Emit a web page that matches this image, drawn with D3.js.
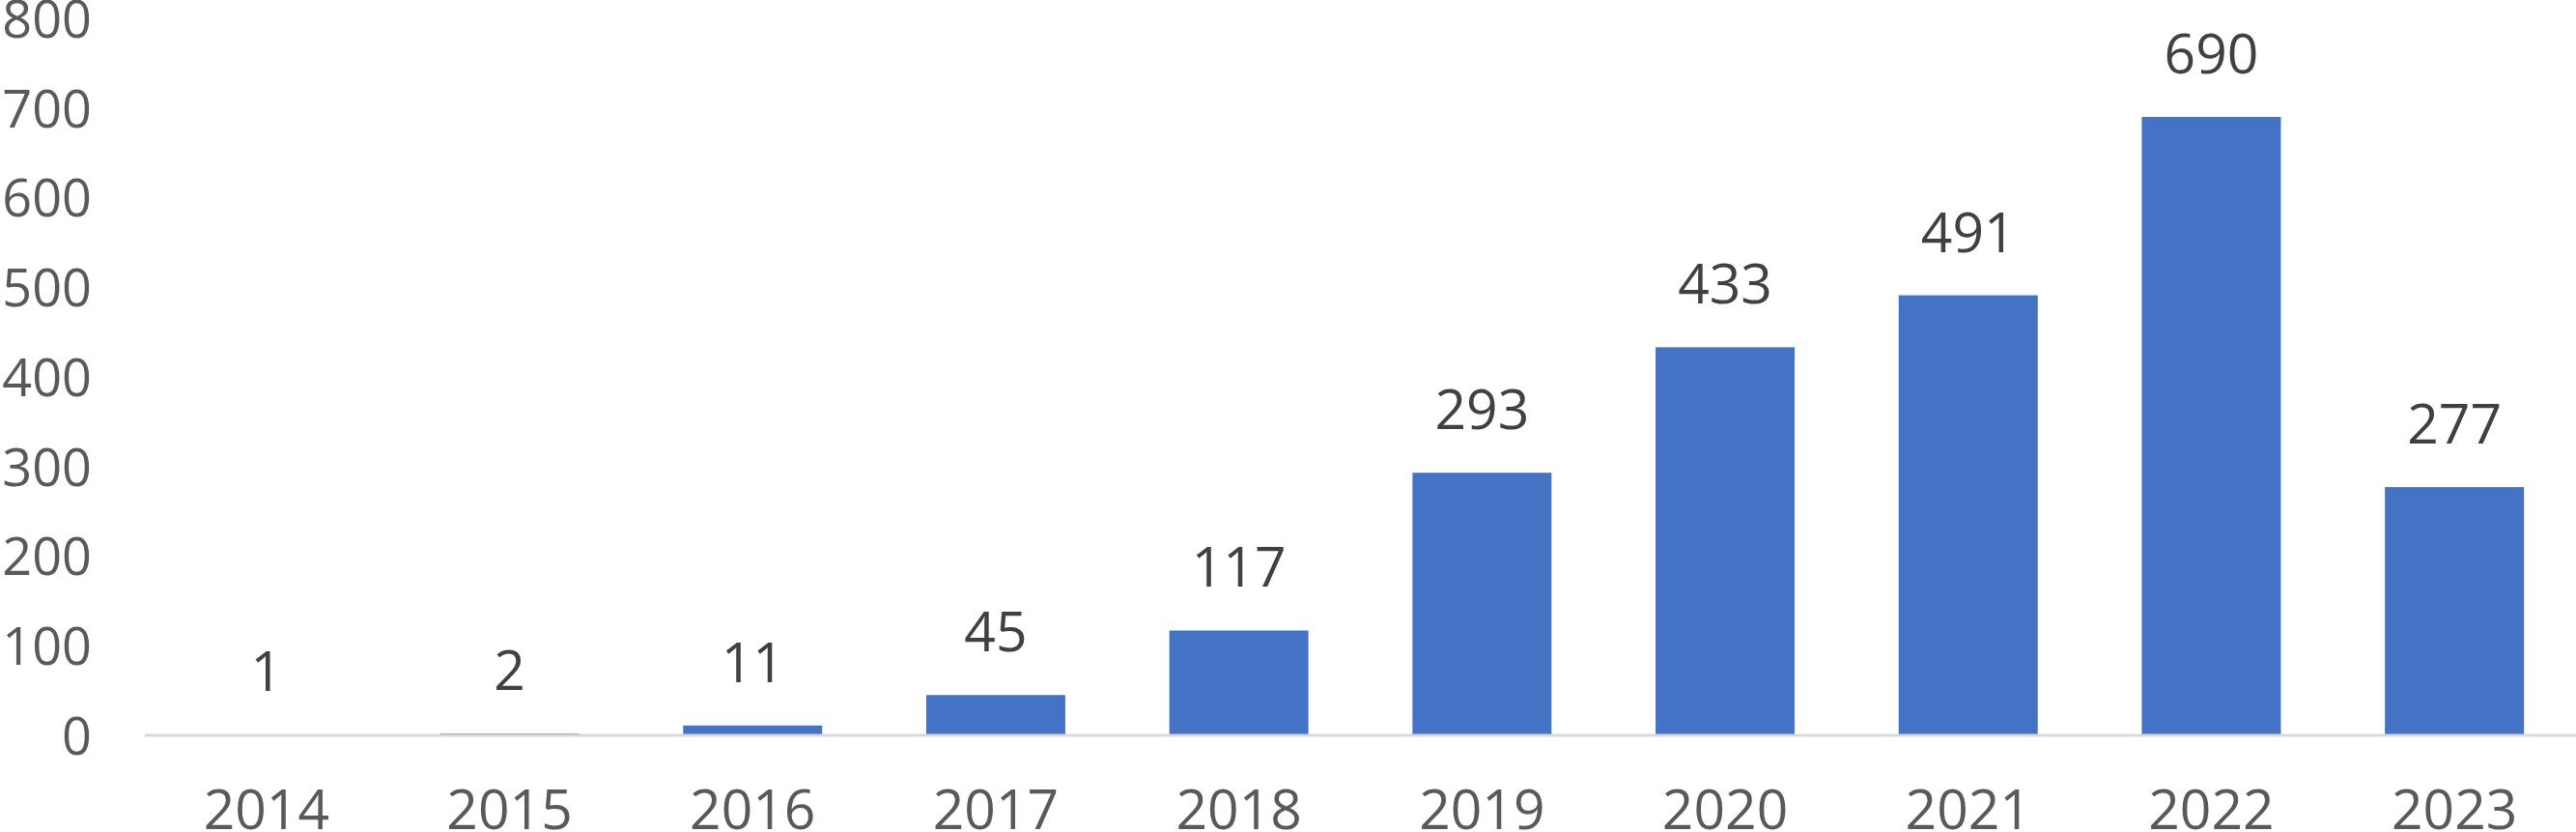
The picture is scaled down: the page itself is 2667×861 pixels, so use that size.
<!DOCTYPE html>
<html>
<head>
<meta charset="utf-8">
<script src="https://cdn.jsdelivr.net/npm/d3@7"></script>
<style>
  html, body { margin: 0; padding: 0; background: #ffffff; }
  svg { display: block; }
</style>
</head>
<body>
<svg id="chart" width="2667" height="861"></svg>
<script>
const years = ["2014", "2015", "2016", "2017", "2018", "2019", "2020", "2021", "2022", "2023"];
const counts = [1, 2, 11, 45, 117, 293, 433, 491, 690, 277];
const yTicks = [0, 100, 200, 300, 400, 500, 600, 700, 800];

const W = 2667, H = 861;
const margin = { left: 150, right: 0 };
const fontFamily = "'Open Sans', 'Noto Sans', sans-serif";
const yFont = 54, xFont = 57, labelFont = 57;

const svg = d3.select("#chart");

const x = d3.scaleBand()
  .domain(years)
  .range([margin.left, W - margin.right])
  .paddingInner(0.428)
  .paddingOuter(0.214);

const y = d3.scaleLinear()
  .domain([0, 800])
  .range([761, 19]);

// Y axis labels (no line, no ticks)
const yAxis = d3.axisLeft(y).tickValues(yTicks).tickSize(0).tickPadding(0);
const yG = svg.append("g").attr("transform", "translate(95,0)").call(yAxis);
yG.select(".domain").remove();
yG.selectAll("text")
  .attr("x", 0)
  .attr("dy", null)
  .attr("y", yFont * 0.357)
  .attr("fill", "#595959")
  .style("font-family", fontFamily)
  .style("font-size", yFont + "px")
  .attr("text-anchor", "end");

// Bars
svg.append("g").selectAll("rect")
  .data(years.map((yr, i) => ({ yr, v: counts[i] })))
  .join("rect")
  .attr("x", d => x(d.yr))
  .attr("width", x.bandwidth())
  .attr("y", d => y(d.v))
  .attr("height", d => y(0) - y(d.v))
  .attr("fill", "#4472C4");

// Baseline
svg.append("line")
  .attr("x1", margin.left)
  .attr("x2", W)
  .attr("y1", y(0))
  .attr("y2", y(0))
  .attr("stroke", "#D9D9D9")
  .attr("stroke-width", 3);

// X axis labels
const xAxis = d3.axisBottom(x).tickSize(0).tickPadding(0);
const xG = svg.append("g").call(xAxis);
xG.select(".domain").remove();
xG.selectAll("text")
  .attr("y", 858)
  .attr("dy", null)
  .attr("fill", "#595959")
  .style("font-family", fontFamily)
  .style("font-size", xFont + "px");

// Data labels
svg.append("g").selectAll("text")
  .data(years.map((yr, i) => ({ yr, v: counts[i] })))
  .join("text")
  .attr("x", d => x(d.yr) + x.bandwidth() / 2)
  .attr("y", d => y(d.v) - 45)
  .attr("text-anchor", "middle")
  .attr("fill", "#404040")
  .style("font-family", fontFamily)
  .style("font-size", labelFont + "px")
  .text(d => d.v);
</script>
</body>
</html>
